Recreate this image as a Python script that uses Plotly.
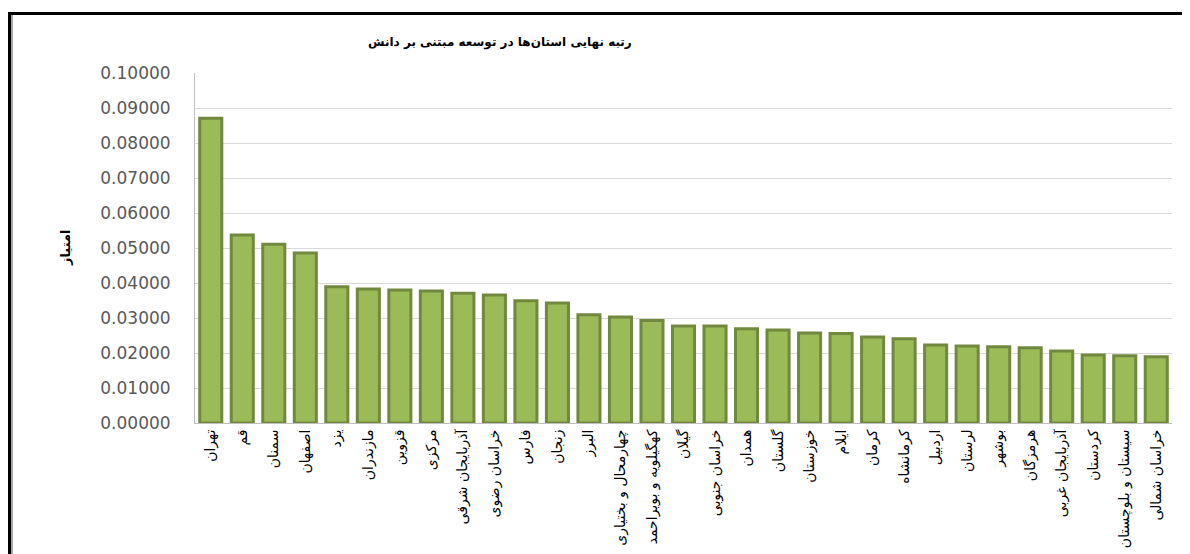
import plotly.graph_objects as go

provinces = ["تهران", "قم", "سمنان", "اصفهان", "یزد", "مازندران", "قزوین", "مرکزی",
             "آذربایجان شرقی", "خراسان رضوی", "فارس", "زنجان", "البرز",
             "چهارمحال و بختیاری", "کهگیلویه و بویراحمد", "گیلان", "خراسان جنوبی",
             "همدان", "گلستان", "خوزستان", "ایلام", "کرمان", "کرمانشاه", "اردبیل",
             "لرستان", "بوشهر", "هرمزگان", "آذربایجان غربی", "کردستان",
             "سیستان و بلوچستان", "خراسان شمالی"]
scores = [0.0871, 0.0537, 0.0511, 0.0486, 0.0389, 0.0383, 0.0380, 0.0377,
          0.0371, 0.0366, 0.0349, 0.0343, 0.0309, 0.0303, 0.0293, 0.0277, 0.0277,
          0.0269, 0.0266, 0.0257, 0.0256, 0.0246, 0.0241, 0.0223, 0.0220, 0.0218,
          0.0215, 0.0206, 0.0194, 0.0192, 0.0189]
chart_title = "رتبه نهایی استان‌ها در توسعه مبتنی بر دانش"
y_title = "امتیاز"

OFF = 8  # page body margin
W, H = 1190 - OFF, 554 - OFF
L, R, T, B = 187, 18, 65, 131
pw = W - L - R
ph = H - T - B

def px(x):
    return (x - OFF - L) / pw

def py(y):
    return 1 - (y - OFF - T) / ph

fig = go.Figure(go.Bar(
    x=provinces, y=scores,
    marker=dict(color="#9BBB59", line=dict(color="#71893F", width=3)),
))

fig.update_layout(
    width=W, height=H,
    margin=dict(l=L, r=R, t=T, b=B),
    paper_bgcolor="white", plot_bgcolor="white",
    bargap=0.3,
    showlegend=False,
    font=dict(family="DejaVu Sans", color="#000000"),
)
fig.update_xaxes(
    tickangle=-90, tickfont=dict(family="DejaVu Sans", size=14, color="#000000"),
    showline=True, linecolor="#BFBFBF", linewidth=1, ticks="", showgrid=False,
    automargin=False,
)
fig.update_yaxes(
    range=[0, 0.1], dtick=0.01, tickformat=".5f",
    tickfont=dict(family="DejaVu Sans", size=17, color="#595959"),
    showgrid=True, gridcolor="#D9D9D9", gridwidth=1,
    showline=True, linecolor="#BFBFBF", linewidth=1, zeroline=False,
    ticklabelstandoff=20, automargin=False,
)

fig.add_annotation(text="<b>" + chart_title + "</b>", xref="paper", yref="paper",
                   x=px(500), y=py(42), xanchor="center", yanchor="middle",
                   showarrow=False,
                   font=dict(family="DejaVu Sans", size=12, color="#000000"))
fig.add_annotation(text="<b>" + y_title + "</b>", xref="paper", yref="paper",
                   x=px(65), y=py(248), xanchor="center", yanchor="middle",
                   showarrow=False, textangle=-90,
                   font=dict(family="DejaVu Sans", size=13, color="#000000"))

# outer frame
fig.add_shape(type="line", xref="paper", yref="paper",
              x0=px(8), x1=px(1195), y0=py(13.5), y1=py(13.5),
              line=dict(color="black", width=3))
fig.add_shape(type="line", xref="paper", yref="paper",
              x0=px(9.5), x1=px(9.5), y0=py(12), y1=py(560),
              line=dict(color="black", width=3))
fig.add_shape(type="line", xref="paper", yref="paper",
              x0=px(12), x1=px(12), y0=py(15), y1=py(560),
              line=dict(color="#A6A6A6", width=2))

fig.write_html("out.html")
